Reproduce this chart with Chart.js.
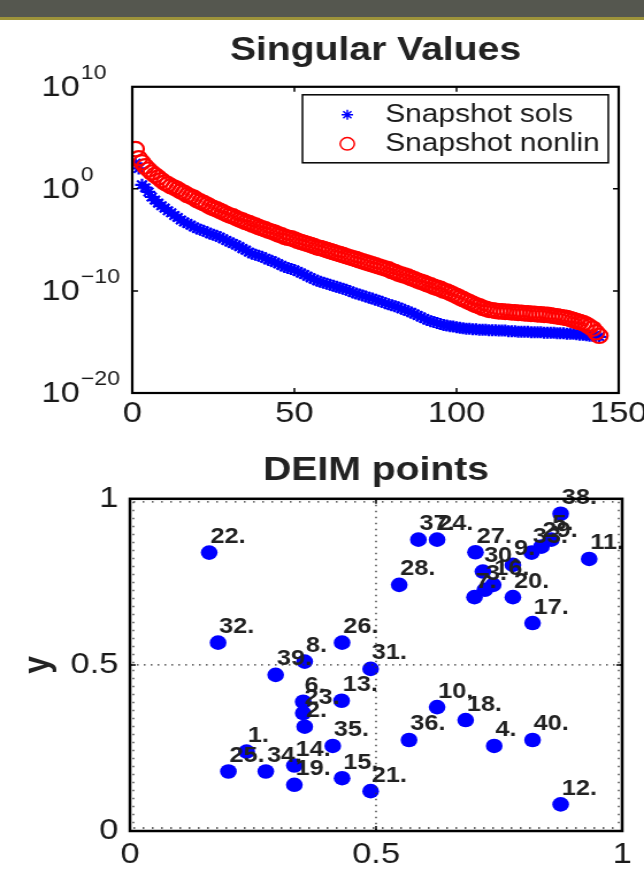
<!DOCTYPE html>
<html>
<head>
<meta charset="utf-8">
<title>Singular Values / DEIM points</title>
<script src="https://cdn.jsdelivr.net/npm/chart.js@4.4.1/dist/chart.umd.min.js"></script>
<style>
  html, body { margin: 0; padding: 0; background: #fff; width: 644px; height: 878px; overflow: hidden; }
  body { position: relative; }
  #bar { position: absolute; left: 0; top: 0; width: 644px; height: 17px; background: #55574f; border-bottom: 3px solid #9d933a; z-index: 2; }
  /* the source figure is stretched sideways a little, so the canvases are too */
  .stretch { position: absolute; left: 0; transform: scaleX(1.15); transform-origin: 0 0; }
  #topBox { top: 0; }
  #bottomBox { top: 440px; }
</style>
</head>
<body>
<div id="bar"></div>
<div class="stretch" id="topBox"><canvas id="svChart" width="600" height="440"></canvas></div>
<div class="stretch" id="bottomBox"><canvas id="deimChart" width="600" height="438"></canvas></div>

<script>
// ---- singular values, index 1..144 ----
const sols = [
  3.2e2, 1e2, 2.5, 1.3, 0.5, 0.16, 7.9e-2, 4e-2, 2.2e-2, 1.3e-2, 7.1e-3, 4.5e-3,
  2.5e-3, 1.6e-3, 8.9e-4, 5.6e-4, 4e-4, 2.8e-4, 1.8e-4, 1.3e-4, 1e-4, 7.9e-5, 5.6e-5, 4e-5,
  3.2e-5, 2.5e-5, 1.8e-5, 1.3e-5, 8.9e-6, 6.3e-6, 4.5e-6, 3.2e-6, 2.2e-6, 1.4e-6, 1e-6, 6.3e-7,
  4.5e-7, 3.5e-7, 2.8e-7, 2.2e-7, 1.6e-7, 1.1e-7, 8.9e-8, 6.3e-8, 4.5e-8, 3.2e-8, 2.2e-8, 1.8e-8,
  1.4e-8, 1.1e-8, 7.9e-9, 5.6e-9, 4e-9, 2.8e-9, 2e-9, 1.4e-9, 1e-9, 7.9e-10, 6.3e-10, 5e-10,
  4e-10, 3.2e-10, 2.5e-10, 2e-10, 1.6e-10, 1.3e-10, 1e-10, 7.1e-11, 5.6e-11, 4.5e-11, 3.5e-11, 2.8e-11,
  2.2e-11, 1.8e-11, 1.4e-11, 1.1e-11, 8.9e-12, 6.3e-12, 5e-12, 4e-12, 3.2e-12, 2.5e-12, 1.8e-12, 1.4e-12,
  1e-12, 7.9e-13, 5.6e-13, 4e-13, 2.8e-13, 2e-13, 1.4e-13, 1.1e-13, 8.9e-14, 7.1e-14, 5.6e-14, 4.5e-14,
  4e-14, 3.5e-14, 3.2e-14, 2.8e-14, 2.5e-14, 2.2e-14, 2e-14, 2e-14, 1.8e-14, 1.8e-14, 1.6e-14, 1.6e-14,
  1.6e-14, 1.4e-14, 1.4e-14, 1.4e-14, 1.3e-14, 1.3e-14, 1.3e-14, 1.1e-14, 1.1e-14, 1.1e-14, 1e-14, 1e-14,
  1e-14, 1e-14, 8.9e-15, 8.9e-15, 8.9e-15, 8.9e-15, 7.9e-15, 7.9e-15, 7.9e-15, 7.9e-15, 7.1e-15, 7.1e-15,
  7.1e-15, 6.3e-15, 6.3e-15, 6.3e-15, 5.6e-15, 5e-15, 5e-15, 4.5e-15, 4e-15, 4e-15, 3.5e-15, 3.2e-15
];

const nonlin = [
  7.9e3, 1e3, 4e2, 1.6e2, 79, 40, 22, 13, 7.1, 4, 2.8, 1.8,
  1.3, 0.89, 0.56, 0.4, 0.25, 0.18, 0.13, 7.9e-2, 5.6e-2, 4e-2, 2.8e-2, 1.8e-2,
  1.3e-2, 1e-2, 7.1e-3, 5e-3, 3.5e-3, 2.5e-3, 2e-3, 1.4e-3, 1e-3, 7.9e-4, 5.6e-4, 4.5e-4,
  3.2e-4, 2.5e-4, 1.8e-4, 1.4e-4, 1.1e-4, 7.9e-5, 6.3e-5, 5e-5, 3.5e-5, 2.8e-5, 2e-5, 1.6e-5,
  1.4e-5, 1.1e-5, 7.9e-6, 6.3e-6, 5e-6, 4e-6, 3.2e-6, 2.5e-6, 1.8e-6, 1.6e-6, 1.3e-6, 1e-6,
  7.9e-7, 6.3e-7, 5e-7, 4e-7, 3.2e-7, 2.5e-7, 2e-7, 1.6e-7, 1.3e-7, 1e-7, 7.9e-8, 6.3e-8,
  5e-8, 4e-8, 3.2e-8, 2.5e-8, 2e-8, 1.6e-8, 1.3e-8, 8.9e-9, 7.1e-9, 5e-9, 4e-9, 3.2e-9,
  2.5e-9, 1.8e-9, 1.4e-9, 1e-9, 7.9e-10, 6.3e-10, 4.5e-10, 3.5e-10, 2.5e-10, 2e-10, 1.6e-10, 1.1e-10,
  8.9e-11, 6.3e-11, 4.5e-11, 3.2e-11, 2.2e-11, 1.6e-11, 1.1e-11, 7.9e-12, 5.6e-12, 4e-12, 3.2e-12, 2.2e-12,
  1.8e-12, 1.4e-12, 1.3e-12, 1.1e-12, 1e-12, 1e-12, 8.9e-13, 8.9e-13, 7.9e-13, 7.9e-13, 7.1e-13, 7.1e-13,
  6.3e-13, 6.3e-13, 5.6e-13, 5.6e-13, 5e-13, 5e-13, 4.5e-13, 4.5e-13, 4e-13, 3.5e-13, 3.2e-13, 2.8e-13,
  2.5e-13, 2.2e-13, 1.8e-13, 1.4e-13, 1.1e-13, 8.9e-14, 7.1e-14, 5e-14, 3.2e-14, 2e-14, 8.9e-15, 4e-15
];

const svTicksX = [0, 50, 100, 150];
const svTickPowers = [10, 0, -10, -20];

// ---- DEIM points, in label order ----
const deimLabels = ['1.','2.','3.','4.','5.','6.','7.','8.','9.','10.',
  '11.','12.','13.','14.','15.','16.','17.','18.','19.','20.',
  '21.','22.','23.','24.','25.','26.','27.','28.','29.','30.',
  '31.','32.','33.','34.','35.','36.','37.','38.','39.','40.'];
const deimX = [0.237, 0.355, 0.721, 0.740, 0.856, 0.352, 0.700, 0.355, 0.778, 0.624,
  0.933, 0.875, 0.430, 0.334, 0.431, 0.738, 0.818, 0.682, 0.334, 0.778,
  0.489, 0.161, 0.352, 0.624, 0.200, 0.431, 0.702, 0.547, 0.836, 0.717,
  0.489, 0.179, 0.816, 0.276, 0.412, 0.567, 0.586, 0.875, 0.296, 0.818];
const deimY = [0.239, 0.314, 0.726, 0.256, 0.877, 0.389, 0.704, 0.510, 0.801, 0.373,
  0.819, 0.080, 0.392, 0.197, 0.159, 0.741, 0.626, 0.334, 0.139, 0.704,
  0.120, 0.838, 0.355, 0.877, 0.179, 0.567, 0.839, 0.741, 0.856, 0.781,
  0.488, 0.567, 0.838, 0.179, 0.256, 0.274, 0.877, 0.955, 0.470, 0.274];
const deimTicks = [0, 0.5, 1];

const FONT = "'Liberation Sans', Arial, Helvetica, sans-serif";
const INK = '#1a1a1a';

// ---------- top chart ----------
const svDecor = {
  id: 'svDecor',
  afterDraw(chart) {
    const { ctx, chartArea: a, scales: { x, y } } = chart;
    ctx.save();
    ctx.strokeStyle = '#000';
    ctx.lineWidth = 2.2;
    ctx.strokeRect(a.left, a.top, a.right - a.left, a.bottom - a.top);

    // inward tick marks, both sides
    ctx.lineWidth = 1.5;
    ctx.beginPath();
    svTicksX.slice(1, -1).forEach(v => {
      const px = x.getPixelForValue(v);
      ctx.moveTo(px, a.bottom); ctx.lineTo(px, a.bottom - 5);
      ctx.moveTo(px, a.top); ctx.lineTo(px, a.top + 5);
    });
    svTickPowers.slice(1, -1).forEach(p => {
      const py = y.getPixelForValue(Math.pow(10, p));
      ctx.moveTo(a.left, py); ctx.lineTo(a.left + 5, py);
      ctx.moveTo(a.right, py); ctx.lineTo(a.right - 5, py);
    });
    ctx.stroke();

    // 10^n labels
    ctx.fillStyle = INK;
    svTickPowers.forEach(p => {
      const py = y.getPixelForValue(Math.pow(10, p));
      const bx = a.left - 79;
      ctx.font = `30px ${FONT}`;
      ctx.textAlign = 'left';
      ctx.textBaseline = 'middle';
      ctx.fillText('10', bx, py + 1);
      const w = ctx.measureText('10').width;
      ctx.font = `20px ${FONT}`;
      ctx.textBaseline = 'alphabetic';
      ctx.fillText(String(p).replace('-', '\u2212'), bx + w + 1, py - 8);
    });

    // legend box inside the plot, top right
    const lx = a.right - 275, ly = a.top + 8, lw = 266, lh = 68;
    ctx.fillStyle = '#fff';
    ctx.fillRect(lx, ly, lw, lh);
    ctx.strokeStyle = '#000';
    ctx.lineWidth = 1.5;
    ctx.strokeRect(lx, ly, lw, lh);
    chart.data.datasets.forEach((ds, i) => {
      const cy = ly + 20 + i * 29;
      ctx.strokeStyle = ds.pointBorderColor;
      ctx.fillStyle = ds.pointBackgroundColor;
      Chart.helpers.drawPoint(ctx, { pointStyle: ds.pointStyle, radius: ds.pointRadius - 1, borderWidth: ds.pointBorderWidth, rotation: 0 }, lx + 39, cy);
      ctx.fillStyle = INK;
      ctx.font = `26px ${FONT}`;
      ctx.textBaseline = 'middle';
      ctx.fillText(ds.label, lx + 72, cy);
    });
    ctx.restore();
  }
};

new Chart(document.getElementById('svChart'), {
  type: 'scatter',
  data: {
    datasets: [
      {
        label: 'Snapshot sols',
        data: sols.map((v, i) => ({ x: i + 1, y: v })),
        pointStyle: 'star', pointRadius: 6, pointBorderWidth: 2.2,
        pointBorderColor: '#0000ff', pointBackgroundColor: '#0000ff',
        order: 2
      },
      {
        label: 'Snapshot nonlin',
        data: nonlin.map((v, i) => ({ x: i + 1, y: v })),
        pointStyle: 'circle', pointRadius: 7.2, pointBorderWidth: 2.2,
        pointBorderColor: '#ff0000', pointBackgroundColor: 'rgba(0,0,0,0)',
        order: 1
      }
    ]
  },
  options: {
    responsive: false,
    animation: false,
    events: [],
    layout: { padding: { left: 0, right: 62, top: 0, bottom: 0 } },
    plugins: {
      legend: { display: false },
      tooltip: { enabled: false },
      title: {
        display: true, text: 'Singular Values', fullSize: false, color: '#222',
        font: { family: FONT, size: 34, weight: 'bold' },
        padding: { top: 30, bottom: 16 }
      }
    },
    scales: {
      x: {
        type: 'linear', min: 0, max: 150,
        ticks: { stepSize: 50, color: INK, padding: 3, maxRotation: 0, font: { family: FONT, size: 30 } },
        grid: { display: false, drawTicks: false },
        border: { display: false },
        afterFit(s) { s.height = 47; }
      },
      y: {
        type: 'logarithmic', min: 1e-20, max: 1e10,
        ticks: { display: false },
        grid: { display: false, drawTicks: false },
        border: { display: false },
        afterBuildTicks(s) { s.ticks = svTickPowers.map(p => ({ value: Math.pow(10, p) })); },
        afterFit(s) { s.width = 115; }
      }
    }
  },
  plugins: [svDecor]
});

// ---------- bottom chart ----------
const deimDecor = {
  id: 'deimDecor',
  afterDatasetsDraw(chart) {
    const { ctx, scales: { x, y } } = chart;
    ctx.save();
    ctx.fillStyle = '#222';
    ctx.font = `bold 22px ${FONT}`;
    ctx.textAlign = 'left';
    ctx.textBaseline = 'alphabetic';
    deimLabels.forEach((t, i) => {
      ctx.fillText(t, x.getPixelForValue(deimX[i]) + 1, y.getPixelForValue(deimY[i]) - 9.5);
    });
    ctx.restore();
  },
  afterDraw(chart) {
    const { ctx, chartArea: a, scales: { x, y } } = chart;
    ctx.save();
    ctx.strokeStyle = '#333';
    ctx.lineWidth = 1.3;
    // dotted grid through 0.5
    ctx.setLineDash([1.5, 4.5]);
    ctx.beginPath();
    const mx = x.getPixelForValue(0.5), my = y.getPixelForValue(0.5);
    ctx.moveTo(mx, a.top); ctx.lineTo(mx, a.bottom);
    ctx.moveTo(a.left, my); ctx.lineTo(a.right, my);
    ctx.stroke();
    // dotted minor marks along the inside of the frame
    ctx.setLineDash([1.5, 6.5]);
    ctx.beginPath();
    ctx.moveTo(a.left + 3, a.top + 3); ctx.lineTo(a.right - 3, a.top + 3);
    ctx.moveTo(a.left + 3, a.bottom - 3); ctx.lineTo(a.right - 3, a.bottom - 3);
    ctx.moveTo(a.left + 3, a.top + 3); ctx.lineTo(a.left + 3, a.bottom - 3);
    ctx.moveTo(a.right - 3, a.top + 3); ctx.lineTo(a.right - 3, a.bottom - 3);
    ctx.stroke();
    ctx.setLineDash([]);
    // frame and inward ticks at 0.5
    ctx.strokeStyle = '#000';
    ctx.lineWidth = 2.5;
    ctx.strokeRect(a.left, a.top, a.right - a.left, a.bottom - a.top);
    ctx.lineWidth = 1.5;
    ctx.beginPath();
    ctx.moveTo(mx, a.top); ctx.lineTo(mx, a.top + 5);
    ctx.moveTo(mx, a.bottom); ctx.lineTo(mx, a.bottom - 5);
    ctx.moveTo(a.left, my); ctx.lineTo(a.left + 5, my);
    ctx.moveTo(a.right, my); ctx.lineTo(a.right - 5, my);
    ctx.stroke();
    ctx.restore();
  }
};

const plainTick = v => String(v);

new Chart(document.getElementById('deimChart'), {
  type: 'scatter',
  data: {
    datasets: [{
      label: 'DEIM points',
      data: deimX.map((v, i) => ({ x: v, y: deimY[i] })),
      pointRadius: 7.3, pointBorderWidth: 0,
      pointBackgroundColor: '#0000ff', pointBorderColor: '#0000ff'
    }]
  },
  options: {
    responsive: false,
    animation: false,
    events: [],
    layout: { padding: { left: 0, right: 59, top: 0, bottom: 0 } },
    plugins: {
      legend: { display: false },
      tooltip: { enabled: false },
      title: {
        display: true, text: 'DEIM points', fullSize: false, color: '#222',
        font: { family: FONT, size: 34, weight: 'bold' },
        padding: { top: 10, bottom: 8 }
      }
    },
    scales: {
      x: {
        type: 'linear', min: 0, max: 1,
        afterBuildTicks(s) { s.ticks = deimTicks.map(v => ({ value: v })); },
        ticks: { color: INK, padding: 6, maxRotation: 0, callback: plainTick, font: { family: FONT, size: 30 } },
        grid: { display: false, drawTicks: false },
        border: { display: false },
        afterFit(s) { s.height = 47; }
      },
      y: {
        type: 'linear', min: 0, max: 1,
        afterBuildTicks(s) { s.ticks = deimTicks.map(v => ({ value: v })); },
        ticks: { color: INK, padding: 10, callback: plainTick, font: { family: FONT, size: 30 } },
        title: { display: true, text: 'y', color: '#222', font: { family: FONT, size: 32, weight: 'bold' }, padding: { top: 14, bottom: 0 } },
        grid: { display: false, drawTicks: false },
        border: { display: false },
        afterFit(s) { s.width = 113; }
      }
    }
  },
  plugins: [deimDecor]
});
</script>
</body>
</html>
